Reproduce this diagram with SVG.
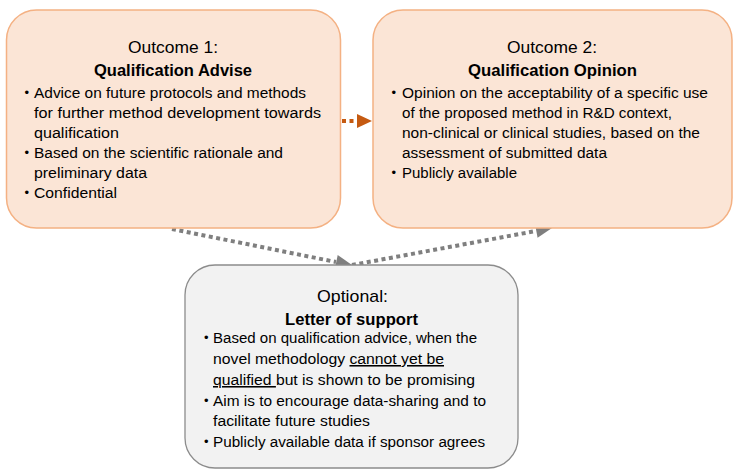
<svg xmlns="http://www.w3.org/2000/svg" width="740" height="473" viewBox="0 0 740 473">
<defs>
<style>
.t{font-family:"Liberation Sans",Arial,sans-serif;font-size:15.5px;fill:#000}
.d{font-family:"Liberation Sans",Arial,sans-serif;font-size:13px;fill:#000}
.h{font-family:"Liberation Sans",Arial,sans-serif;font-size:17px;fill:#000}
.b{font-weight:bold}
.ob{fill:#FBE5D6;stroke:#F4B183;stroke-width:1.5}
.gb{fill:#F2F2F2;stroke:#8C8C8C;stroke-width:1.3}
.ga{fill:none;stroke:#7F7F7F;stroke-width:4;stroke-dasharray:4 3.5}
.oa{fill:none;stroke:#C55A11;stroke-width:4;stroke-dasharray:4 3.5}
.u{text-decoration:underline}
</style>
</defs>
<g id="connectors">
<path class="oa" d="M342,121 L358,121"/>
<polygon points="357,114 372,121 357,128" fill="#C55A11"/>
<path class="ga" d="M172,229 L336,262"/>
<polygon points="334.9,268.8 352,265 337.7,255" fill="#7F7F7F"/>
<path class="ga" d="M352,265 L536,231"/>
<polygon points="537.6,237.8 552,228 535,224" fill="#7F7F7F"/>
</g>
<g id="outcome1">
<rect class="ob" x="6.5" y="10" width="334" height="218" rx="30"/>
<text class="h" x="128" y="53" textLength="90" lengthAdjust="spacingAndGlyphs">Outcome 1:</text>
<text class="h b" x="94" y="76" textLength="158" lengthAdjust="spacingAndGlyphs">Qualification Advise</text>
<text class="d" x="24.5" y="96.5">•</text>
<text class="t" x="34" y="98" textLength="272" lengthAdjust="spacingAndGlyphs">Advice on future protocols and methods</text>
<text class="t" x="34" y="118" textLength="287" lengthAdjust="spacingAndGlyphs">for further method development towards</text>
<text class="t" x="34" y="138" textLength="85" lengthAdjust="spacingAndGlyphs">qualification</text>
<text class="d" x="24.5" y="156.5">•</text>
<text class="t" x="34" y="158" textLength="249" lengthAdjust="spacingAndGlyphs">Based on the scientific rationale and</text>
<text class="t" x="34" y="178" textLength="113" lengthAdjust="spacingAndGlyphs">preliminary data</text>
<text class="d" x="24.5" y="196.5">•</text>
<text class="t" x="34" y="198" textLength="83" lengthAdjust="spacingAndGlyphs">Confidential</text>
</g>
<g id="outcome2">
<rect class="ob" x="373" y="10" width="359" height="218" rx="30"/>
<text class="h" x="507" y="53" textLength="90" lengthAdjust="spacingAndGlyphs">Outcome 2:</text>
<text class="h b" x="468" y="76" textLength="169" lengthAdjust="spacingAndGlyphs">Qualification Opinion</text>
<text class="d" x="391.5" y="96.5">•</text>
<text class="t" x="402" y="98" textLength="306" lengthAdjust="spacingAndGlyphs">Opinion on the acceptability of a specific use</text>
<text class="t" x="402" y="118" textLength="270" lengthAdjust="spacingAndGlyphs">of the proposed method in R&amp;D context,</text>
<text class="t" x="402" y="138" textLength="298" lengthAdjust="spacingAndGlyphs">non-clinical or clinical studies, based on the</text>
<text class="t" x="402" y="158" textLength="205" lengthAdjust="spacingAndGlyphs">assessment of submitted data</text>
<text class="d" x="391.5" y="176.5">•</text>
<text class="t" x="402" y="178" textLength="115" lengthAdjust="spacingAndGlyphs">Publicly available</text>
</g>
<g id="letter">
<rect class="gb" x="185" y="265" width="333" height="203" rx="30"/>
<text class="h" x="317" y="302" textLength="71" lengthAdjust="spacingAndGlyphs">Optional:</text>
<text class="h b" x="285" y="325" textLength="133" lengthAdjust="spacingAndGlyphs">Letter of support</text>
<text class="d" x="204" y="341.5">•</text>
<text class="t" x="213" y="343" textLength="264" lengthAdjust="spacingAndGlyphs">Based on qualification advice, when the</text>
<text class="t" x="213" y="364" textLength="231" lengthAdjust="spacingAndGlyphs">novel methodology <tspan class="u">cannot yet be</tspan></text>
<text class="t" x="213" y="385" textLength="262" lengthAdjust="spacingAndGlyphs"><tspan class="u">qualified </tspan>but is shown to be promising</text>
<text class="d" x="204" y="404.5">•</text>
<text class="t" x="213" y="406" textLength="273" lengthAdjust="spacingAndGlyphs">Aim is to encourage data-sharing and to</text>
<text class="t" x="213" y="426" textLength="157" lengthAdjust="spacingAndGlyphs">facilitate future studies</text>
<text class="d" x="204" y="445.5">•</text>
<text class="t" x="213" y="447" textLength="272" lengthAdjust="spacingAndGlyphs">Publicly available data if sponsor agrees</text>
</g>
</svg>
